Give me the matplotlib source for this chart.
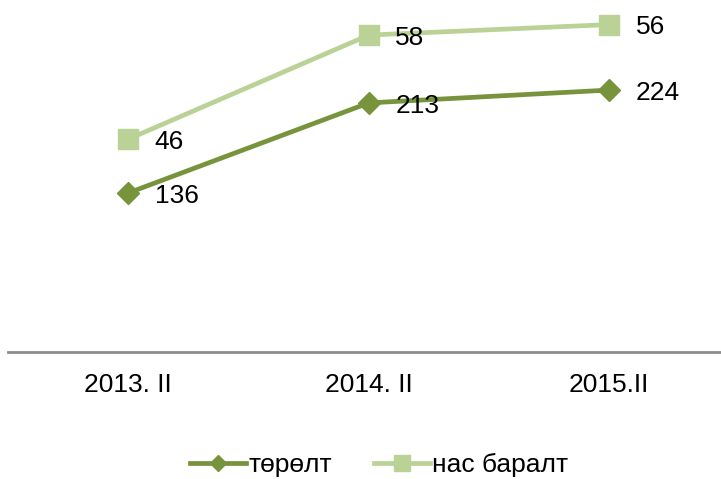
import matplotlib
matplotlib.use("Agg")
from matplotlib import pyplot as plt
import numpy as np

plt.rcParams['font.family'] = ['Liberation Sans', 'DejaVu Sans']

# data (stacked line chart: deaths are drawn on top of births)
categories = ["2013. II", "2014. II", "2015.II"]
births = [136, 213, 224]
deaths = [46, 58, 56]

c_births = "#77933C"
c_deaths = "#BBD296"

fig = plt.figure(figsize=(7.21, 4.79), dpi=100)
ax = fig.add_axes([8 / 721, 1 - 352 / 479, 1 - 8 / 721, 352 / 479])

x = np.arange(len(categories))
stacked = np.array(births) + np.array(deaths)

ax.plot(x, births, color=c_births, lw=3.4, marker="D", ms=11,
        label="төрөлт", zorder=3)
ax.plot(x, stacked, color=c_deaths, lw=3.4, marker="s", ms=15,
        label="нас баралт", zorder=3)

for xi, yi, v in zip(x, births, births):
    ax.annotate(str(v), (xi, yi), xytext=(19, -2), textcoords="offset points",
                ha="left", va="center", fontsize=19)
for xi, yi, v in zip(x, stacked, deaths):
    ax.annotate(str(v), (xi, yi), xytext=(19, -2), textcoords="offset points",
                ha="left", va="center", fontsize=19)

ax.set_xlim(-0.5, -0.5 + 713 / 240.5)
ax.set_ylim(0, 301)
ax.set_xticks(x)
ax.set_xticklabels(categories, fontsize=19)
ax.tick_params(axis="x", length=0, pad=15)
ax.set_yticks([])
for s in ["top", "right", "left"]:
    ax.spines[s].set_visible(False)
ax.spines["bottom"].set_color("#8C8C8C")
ax.spines["bottom"].set_linewidth(2)
ax.patch.set_alpha(0)

fig.legend(loc="center", ncol=2, frameon=False, fontsize=19,
           handlelength=2.1, handletextpad=0.1, columnspacing=1.6,
           markerscale=0.75, bbox_to_anchor=(0.526, 1 - 465 / 479))

fig.savefig("out.png", dpi=100)
